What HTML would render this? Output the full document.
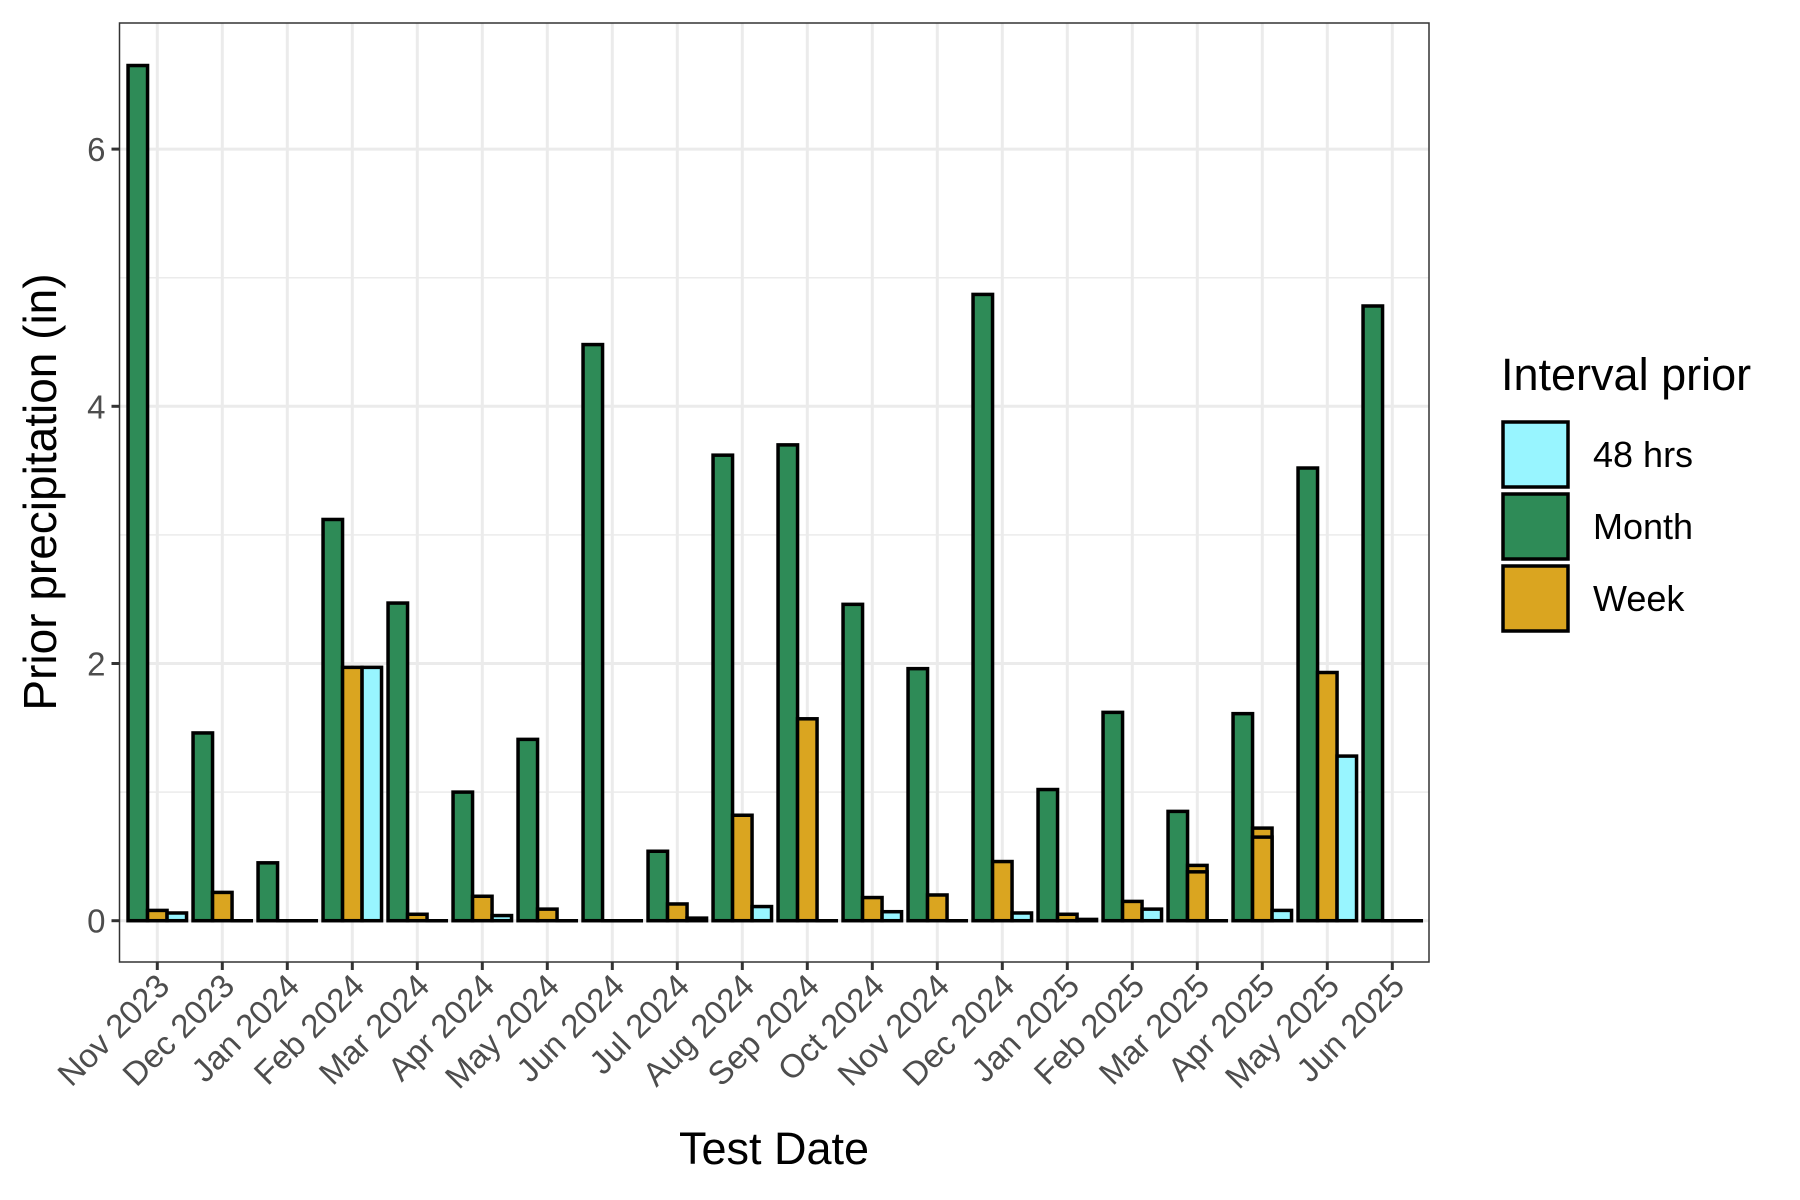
<!DOCTYPE html>
<html><head><meta charset="utf-8"><style>
body{margin:0;background:#fff}
svg{display:block;font-family:"Liberation Sans",Arial,sans-serif}
</style></head><body>
<svg id="chart" width="1800" height="1200" viewBox="0 0 1800 1200" xmlns="http://www.w3.org/2000/svg">
<rect x="0" y="0" width="1800" height="1200" fill="#fff"/>
<g id="grid"></g><g id="bars"></g><g id="axes"></g>
<text x="774" y="1164" font-size="45" text-anchor="middle" fill="#000">Test Date</text>
<text transform="translate(56,492) rotate(-90)" font-size="46" text-anchor="middle" fill="#000">Prior precipitation (in)</text>
<g>
<text x="1501" y="390" font-size="45" fill="#000">Interval prior</text>
<rect x="1503" y="422" width="65" height="65" fill="#98F5FF" stroke="#000" stroke-width="3.5"/>
<rect x="1503" y="494" width="65" height="65" fill="#2E8B57" stroke="#000" stroke-width="3.5"/>
<rect x="1503" y="566" width="65" height="65" fill="#DAA520" stroke="#000" stroke-width="3.5"/>
<text x="1593" y="467" font-size="36" fill="#000">48 hrs</text>
<text x="1593" y="539" font-size="36" fill="#000">Month</text>
<text x="1593" y="611" font-size="36" fill="#000">Week</text>
</g>
</svg>
<script>
const categories=["Nov 2023","Dec 2023","Jan 2024","Feb 2024","Mar 2024","Apr 2024","May 2024","Jun 2024","Jul 2024","Aug 2024","Sep 2024","Oct 2024","Nov 2024","Dec 2024","Jan 2025","Feb 2025","Mar 2025","Apr 2025","May 2025","Jun 2025"];
const monthValues=[6.65,1.46,0.45,3.12,2.47,1.0,1.41,4.48,0.54,3.62,3.70,2.46,1.96,4.87,1.02,1.62,0.85,1.61,3.52,4.78];
const weekValues=[0.08,0.22,0,1.97,0.05,0.19,0.09,0,0.13,0.82,1.57,0.18,0.2,0.46,0.05,0.15,0.43,0.72,1.93,0];
const weekOverlapValues=[0,0,0,0,0,0,0,0,0,0,0,0,0,0,0,0,0.38,0.65,0,0];
const hrs48Values=[0.06,0,0,1.97,0,0.04,0,0,0.02,0.11,0,0.07,0,0.06,0.01,0.09,0,0.08,1.28,0];
const yTicks=[0,2,4,6];
const yMinor=[1,3,5];

const NS="http://www.w3.org/2000/svg";
const PL=119.5,PR=1429,PT=23,PB=962;
const X0=157.3,STEP=65.0;
function xScale(i){return X0+i*STEP;}
function yScale(v){return 920.7-v*128.6;}
function mk(tag,attrs,parent){const e=document.createElementNS(NS,tag);for(const k in attrs)e.setAttribute(k,attrs[k]);parent.appendChild(e);return e;}
const grid=document.getElementById('grid'),bars=document.getElementById('bars'),axes=document.getElementById('axes');
mk('rect',{x:PL,y:PT,width:PR-PL,height:PB-PT,fill:'#fff'},grid);
yMinor.forEach(v=>{const l=mk('line',{x1:PL,x2:PR,y1:yScale(v),y2:yScale(v),stroke:'#ebebeb','stroke-width':1.5},grid);

});
yTicks.forEach(v=>{const l=mk('line',{x1:PL,x2:PR,y1:yScale(v),y2:yScale(v),stroke:'#ebebeb','stroke-width':3},grid);


const t=mk('line',{x1:PL-8,x2:PL,y1:yScale(v),y2:yScale(v),stroke:'#333','stroke-width':3},axes);


const tx=mk('text',{x:PL-14,y:yScale(v)+12,'font-size':33,fill:'#4d4d4d','text-anchor':'end'},axes);tx.textContent=v;

});
const BW=19.5;
categories.forEach((c,i)=>{const cx=xScale(i);
const g=mk('line',{x1:cx,x2:cx,y1:PT,y2:PB,stroke:'#ebebeb','stroke-width':3},grid);


const t=mk('line',{x1:cx,x2:cx,y1:PB,y2:PB+8,stroke:'#333','stroke-width':3},axes);


const tx=mk('text',{transform:`translate(${cx+14},${PB+26}) rotate(-45)`,'font-size':33,fill:'#4d4d4d','text-anchor':'end'},axes);tx.textContent=c;


const left=cx-1.5*BW;
const series=[[monthValues[i],'#2E8B57',0,'bar-month'],[weekValues[i],'#DAA520',1,'bar-week'],[weekOverlapValues[i],'#DAA520',1,'bar-week-overlap'],[hrs48Values[i],'#98F5FF',2,'bar-48hrs']];
series.forEach(([v,col,k,nm])=>{if(nm==='bar-week-overlap'&&v===0)return;
const y=yScale(v);
if(yScale(0)-y<1){const z=mk('line',{x1:left+k*BW-1.5,x2:left+(k+1)*BW+1.5,y1:yScale(0),y2:yScale(0),stroke:'#000','stroke-width':3.5},bars);


return;}
const b=mk('rect',{x:left+k*BW,y:y,width:BW,height:yScale(0)-y,fill:col,stroke:'#000','stroke-width':3.5},bars);

});
});
const border=mk('rect',{x:PL,y:PT,width:PR-PL,height:PB-PT,fill:'none',stroke:'#333','stroke-width':1.5},axes);


</script>
</body></html>
